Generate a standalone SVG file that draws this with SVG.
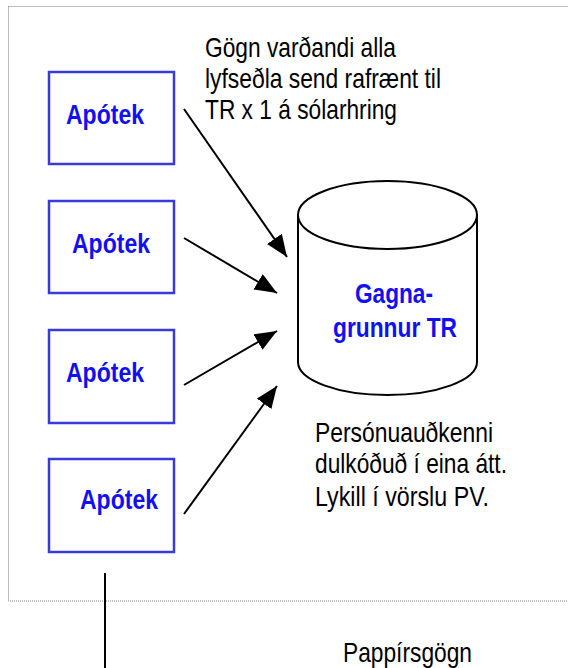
<svg xmlns="http://www.w3.org/2000/svg" width="568" height="668" viewBox="0 0 568 668">
<style>
.frame{fill:none;stroke:#808080;stroke-width:1;stroke-dasharray:1 1}
.box{fill:#fff;stroke:#3a3ad6;stroke-width:2.5}
.btxt{font-family:"Liberation Sans Narrow","Liberation Sans",Arial,sans-serif;font-weight:bold;font-size:28px;fill:#1010f0}
.txt{font-family:"Liberation Sans Narrow","Liberation Sans",Arial,sans-serif;font-size:28px;fill:#000}
.cyl{fill:#fff;stroke:#000;stroke-width:2}
.conn{stroke:#000;stroke-width:2;fill:none}
</style>
<defs>
<marker id="ah" viewBox="0 0 22 18" refX="22" refY="9" markerWidth="22" markerHeight="18" markerUnits="userSpaceOnUse" orient="auto">
<path d="M0,0 L22,9 L0,18 Z" fill="#000"/>
</marker>
</defs>
<rect class="frame" x="8.5" y="6.5" width="600" height="594.5"/>
<g id="note-top">
<text class="txt" x="205" y="57" textLength="191" lengthAdjust="spacingAndGlyphs">Gögn varðandi alla</text>
<text class="txt" x="205" y="88" textLength="236" lengthAdjust="spacingAndGlyphs">lyfseðla send rafrænt til</text>
<text class="txt" x="205" y="119" textLength="192" lengthAdjust="spacingAndGlyphs">TR x 1 á sólarhring</text>
</g>
<g id="apotek1">
<rect class="box" x="49" y="72" width="125" height="92"/>
<text class="btxt" x="66" y="124" textLength="78" lengthAdjust="spacingAndGlyphs">Apótek</text>
</g>
<g id="apotek2">
<rect class="box" x="49" y="201" width="125" height="92"/>
<text class="btxt" x="72" y="253" textLength="78" lengthAdjust="spacingAndGlyphs">Apótek</text>
</g>
<g id="apotek3">
<rect class="box" x="49" y="330" width="125" height="93"/>
<text class="btxt" x="66" y="382" textLength="78" lengthAdjust="spacingAndGlyphs">Apótek</text>
</g>
<g id="apotek4">
<rect class="box" x="49" y="459" width="125" height="93"/>
<text class="btxt" x="80" y="509" textLength="78" lengthAdjust="spacingAndGlyphs">Apótek</text>
</g>
<g id="database">
<path class="cyl" d="M298,215 L298,362 A89.5,33 0 0 0 477,362 L477,215 A89.5,34 0 0 0 298,215 Z"/>
<path class="cyl" d="M298,215 A89.5,34 0 0 0 477,215"/>
<text class="btxt" x="355" y="303" textLength="78" lengthAdjust="spacingAndGlyphs">Gagna-</text>
<text class="btxt" x="333" y="337" textLength="124" lengthAdjust="spacingAndGlyphs">grunnur TR</text>
</g>
<g id="note-bottom">
<text class="txt" x="315" y="442" textLength="178" lengthAdjust="spacingAndGlyphs">Persónuauðkenni</text>
<text class="txt" x="315" y="473" textLength="192" lengthAdjust="spacingAndGlyphs">dulkóðuð í eina átt.</text>
<text class="txt" x="315" y="506" textLength="174" lengthAdjust="spacingAndGlyphs">Lykill í vörslu PV.</text>
</g>
<g id="note-paper">
<text class="txt" x="343" y="662" textLength="129" lengthAdjust="spacingAndGlyphs">Pappírsgögn</text>
</g>
<g id="connectors">
<line class="conn" x1="184" y1="109" x2="287" y2="257" marker-end="url(#ah)"/>
<line class="conn" x1="184" y1="238" x2="277" y2="293" marker-end="url(#ah)"/>
<line class="conn" x1="184" y1="385" x2="277" y2="331" marker-end="url(#ah)"/>
<line class="conn" x1="184" y1="514" x2="277" y2="386" marker-end="url(#ah)"/>
<line class="conn" x1="105" y1="573" x2="105" y2="668"/>
</g>
</svg>
